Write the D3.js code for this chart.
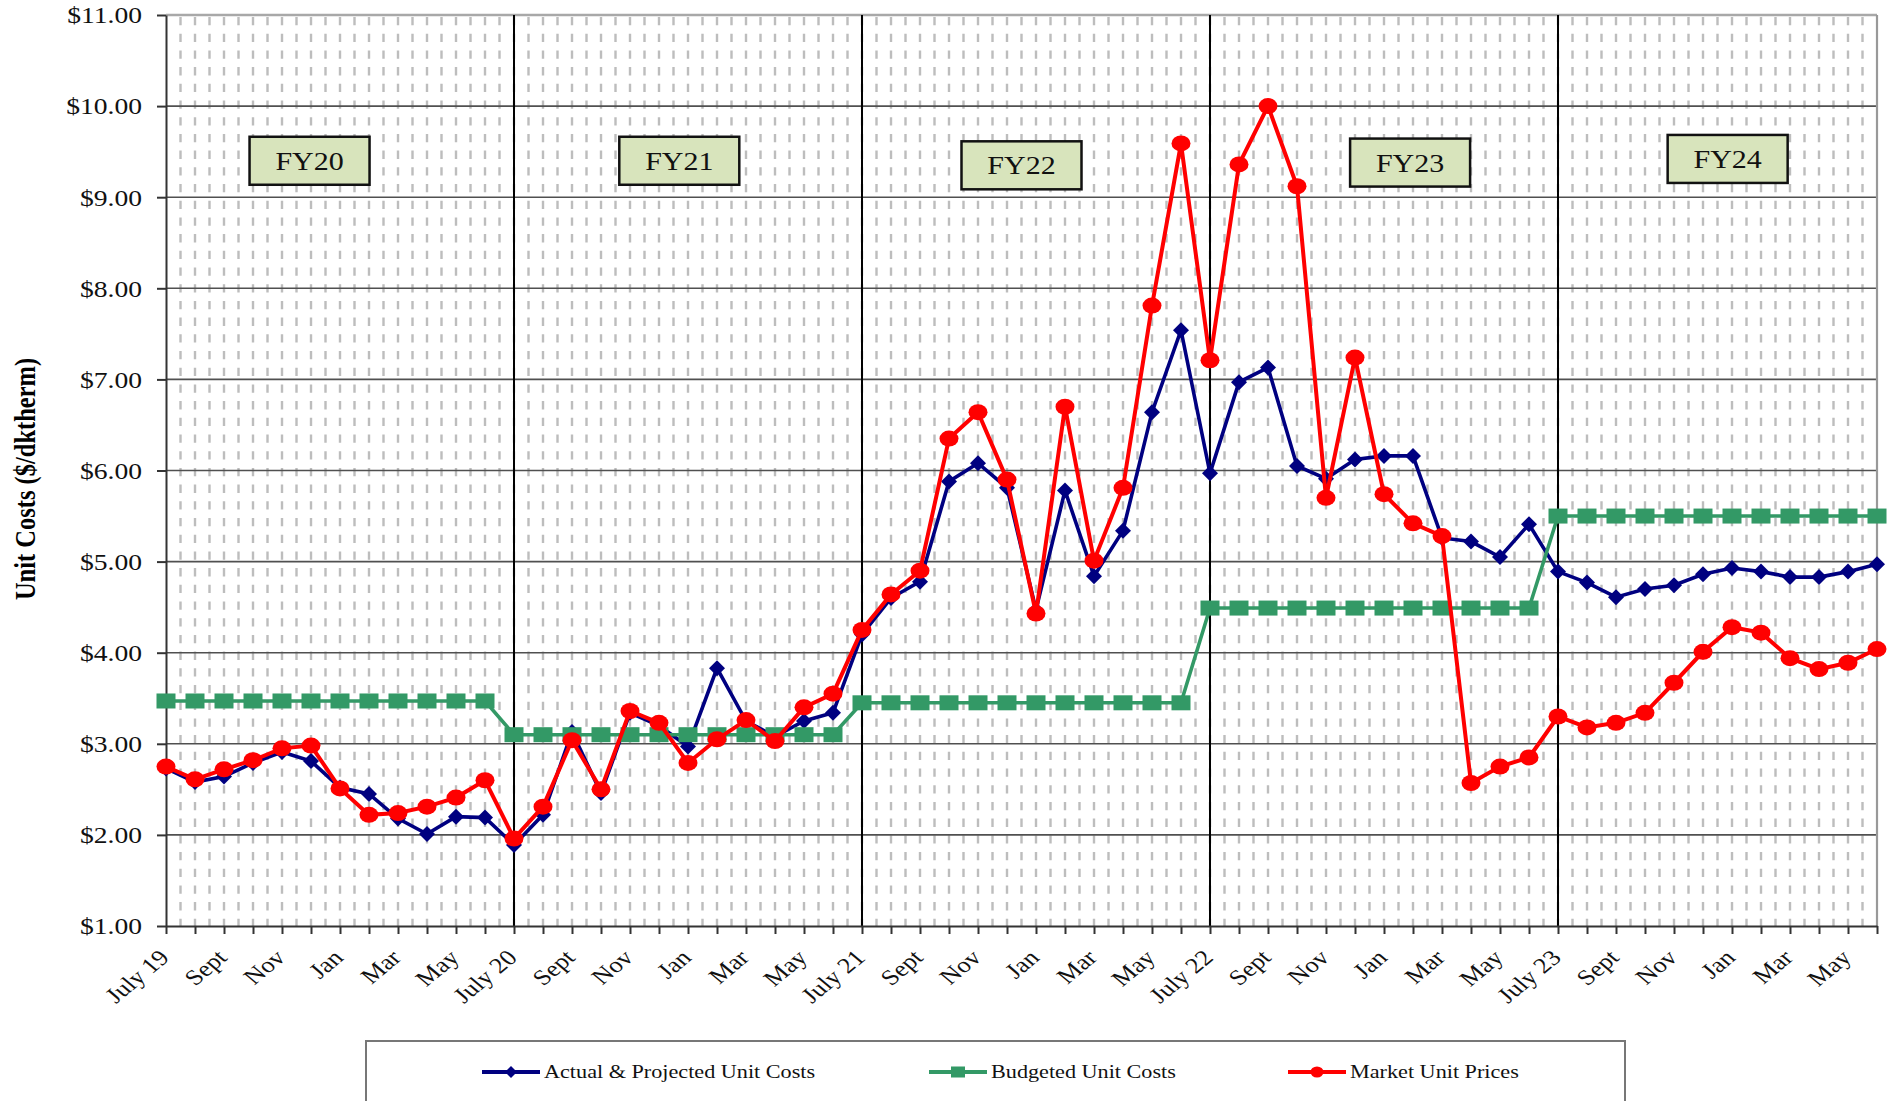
<!DOCTYPE html>
<html>
<head>
<meta charset="utf-8">
<script src="https://cdn.jsdelivr.net/npm/d3@7"></script>
<style>
  body { margin: 0; background: #fff; }
  svg { display: block; font-family: "Liberation Serif", "Times New Roman", serif; }
</style>
</head>
<body>
<div id="chart"></div>
<script>
// Month tick labels, July 19 .. June 24 (only every other month is labelled)
var tickLabels = [
  "July 19", "", "Sept", "", "Nov", "", "Jan", "", "Mar", "", "May", "",
  "July 20", "", "Sept", "", "Nov", "", "Jan", "", "Mar", "", "May", "",
  "July 21", "", "Sept", "", "Nov", "", "Jan", "", "Mar", "", "May", "",
  "July 22", "", "Sept", "", "Nov", "", "Jan", "", "Mar", "", "May", "",
  "July 23", "", "Sept", "", "Nov", "", "Jan", "", "Mar", "", "May", ""
];

// Actual & Projected Unit Costs ($/dktherm)
var actualCosts = [
  2.73, 2.58, 2.64, 2.79, 2.91, 2.81, 2.52, 2.45, 2.18, 2.01, 2.20, 2.19,
  1.89, 2.22, 3.13, 2.46, 3.34, 3.20, 2.97, 3.83, 3.25, 3.08, 3.25, 3.34,
  4.20, 4.60, 4.78, 5.88, 6.08, 5.81, 4.47, 5.78, 4.84, 5.34, 6.64, 7.54,
  5.97, 6.97, 7.13, 6.05, 5.91, 6.12, 6.16, 6.16, 5.26, 5.22, 5.05, 5.41,
  4.89, 4.77, 4.61, 4.70, 4.74, 4.86, 4.93, 4.89, 4.83, 4.83, 4.89, 4.97
];

// Budgeted Unit Costs
var budgetedCosts = [
  3.47, 3.47, 3.47, 3.47, 3.47, 3.47, 3.47, 3.47, 3.47, 3.47, 3.47, 3.47,
  3.10, 3.10, 3.10, 3.10, 3.10, 3.10, 3.10, 3.10, 3.10, 3.10, 3.10, 3.10,
  3.45, 3.45, 3.45, 3.45, 3.45, 3.45, 3.45, 3.45, 3.45, 3.45, 3.45, 3.45,
  4.49, 4.49, 4.49, 4.49, 4.49, 4.49, 4.49, 4.49, 4.49, 4.49, 4.49, 4.49,
  5.50, 5.50, 5.50, 5.50, 5.50, 5.50, 5.50, 5.50, 5.50, 5.50, 5.50, 5.50
];

// Market Unit Prices
var marketPrices = [
  2.75, 2.61, 2.72, 2.82, 2.95, 2.98, 2.51, 2.22, 2.24, 2.31, 2.41, 2.60,
  1.96, 2.31, 3.04, 2.50, 3.36, 3.23, 2.79, 3.05, 3.26, 3.03, 3.40, 3.55,
  4.25, 4.64, 4.90, 6.35, 6.64, 5.90, 4.43, 6.70, 5.01, 5.81, 7.81, 9.59,
  7.21, 9.36, 10.00, 9.12, 5.70, 7.24, 5.74, 5.42, 5.28, 2.57, 2.75, 2.85,
  3.30, 3.18, 3.23, 3.34, 3.67, 4.01, 4.28, 4.22, 3.94, 3.82, 3.89, 4.04
];

// Fiscal year label boxes, placed in chart units (month index, $)
var fyLabels = ["FY20", "FY21", "FY22", "FY23", "FY24"];
var fyMonth = [4.95, 17.7, 29.5, 42.9, 53.85];
var fyValue = [9.40, 9.40, 9.35, 9.38, 9.42];

var yearStarts = [12, 24, 36, 48];

var width = 1888, height = 1101;
var stretch = 1.2; // the picture is a little wider than tall, text follows

var svg = d3.select("#chart").append("svg")
  .attr("width", width)
  .attr("height", height);

var x = d3.scaleLinear().domain([0, 59]).range([166, 1877]);
var y = d3.scaleLinear().domain([1, 11]).range([926, 15]);

// minor dashed grid, every half month
svg.append("g")
  .selectAll("line")
  .data(d3.range(0.5, 59, 0.5))
  .enter().append("line")
    .attr("x1", function(d) { return x(d); })
    .attr("x2", function(d) { return x(d); })
    .attr("y1", y(11) + 2)
    .attr("y2", y(1))
    .style("stroke", "#bdbdbd")
    .style("stroke-width", 2.4)
    .style("stroke-dasharray", "8.3,8.4");

// horizontal gridlines
svg.append("g")
  .selectAll("line")
  .data(d3.range(2, 11))
  .enter().append("line")
    .attr("x1", x(0))
    .attr("x2", x(59))
    .attr("y1", function(d) { return y(d); })
    .attr("y2", function(d) { return y(d); })
    .style("stroke", "#505050")
    .style("stroke-width", 1.6);

// top and right border
svg.append("line")
  .attr("x1", x(0)).attr("x2", x(59))
  .attr("y1", y(11)).attr("y2", y(11))
  .style("stroke", "#a8a8a8").style("stroke-width", 2.5);
svg.append("line")
  .attr("x1", x(59)).attr("x2", x(59))
  .attr("y1", y(11)).attr("y2", y(1))
  .style("stroke", "#999").style("stroke-width", 2.2);

// fiscal year dividers
svg.append("g")
  .selectAll("line")
  .data(yearStarts)
  .enter().append("line")
    .attr("x1", function(d) { return x(d); })
    .attr("x2", function(d) { return x(d); })
    .attr("y1", y(11))
    .attr("y2", y(1))
    .style("stroke", "#000")
    .style("stroke-width", 2);

// y axis
var yAxis = svg.append("g")
  .attr("transform", "translate(" + x(0) + ",0)")
  .call(d3.axisLeft(y)
    .tickValues(d3.range(1, 12))
    .tickFormat(function(d) { return "$" + d.toFixed(2); })
    .tickSize(9)
    .tickSizeOuter(0));
yAxis.select(".domain").style("stroke", "#333").style("stroke-width", 2);
yAxis.selectAll(".tick line").style("stroke", "#333").style("stroke-width", 2);
yAxis.selectAll(".tick text")
  .attr("x", 0)
  .attr("dy", "0.34em")
  .attr("transform", "translate(-24,0) scale(" + stretch + ",1)")
  .style("font-size", "23px")
  .style("fill", "#111")
  .style("font-family", "Liberation Serif, serif");

// x axis
var xAxis = svg.append("g")
  .attr("transform", "translate(0," + y(1) + ")")
  .call(d3.axisBottom(x)
    .tickValues(d3.range(0, 60))
    .tickFormat(function(d) { return tickLabels[d]; })
    .tickSize(8)
    .tickSizeOuter(0));
xAxis.select(".domain").style("stroke", "#333").style("stroke-width", 2);
xAxis.selectAll(".tick line").style("stroke", "#333").style("stroke-width", 2);
xAxis.selectAll(".tick text")
  .attr("x", 0)
  .attr("y", 0)
  .attr("dy", 0)
  .attr("text-anchor", "end")
  .attr("transform", "translate(4,33) scale(" + stretch + ",1) rotate(-45)")
  .style("font-size", "22px")
  .style("fill", "#111")
  .style("font-family", "Liberation Serif, serif");

// y axis title
svg.append("text")
  .attr("transform", "translate(25,479) scale(" + stretch + ",1) rotate(-90)")
  .attr("text-anchor", "middle")
  .attr("dy", "0.35em")
  .style("font-size", "24.5px")
  .style("font-weight", "bold")
  .text("Unit Costs ($/dktherm)");

var line = d3.line()
  .x(function(d, i) { return x(i); })
  .y(function(d) { return y(d); });

// Actual & Projected
svg.append("path")
  .datum(actualCosts)
  .attr("d", line)
  .style("fill", "none")
  .style("stroke", "#000080")
  .style("stroke-width", 3.6);
svg.append("g")
  .selectAll("path")
  .data(actualCosts)
  .enter().append("path")
    .attr("d", "M0,-8L8,0L0,8L-8,0Z")
    .attr("transform", function(d, i) { return "translate(" + x(i) + "," + y(d) + ")"; })
    .style("fill", "#000080");

// Budgeted
svg.append("path")
  .datum(budgetedCosts)
  .attr("d", line)
  .style("fill", "none")
  .style("stroke", "#339966")
  .style("stroke-width", 3.6);
svg.append("g")
  .selectAll("rect")
  .data(budgetedCosts)
  .enter().append("rect")
    .attr("x", function(d, i) { return x(i) - 9.5; })
    .attr("y", function(d) { return y(d) - 7.5; })
    .attr("width", 19)
    .attr("height", 15)
    .style("fill", "#339966");

// Market
svg.append("path")
  .datum(marketPrices)
  .attr("d", line)
  .style("fill", "none")
  .style("stroke", "#ff0000")
  .style("stroke-width", 4);
svg.append("g")
  .selectAll("ellipse")
  .data(marketPrices)
  .enter().append("ellipse")
    .attr("cx", function(d, i) { return x(i); })
    .attr("cy", function(d) { return y(d); })
    .attr("rx", 9.5)
    .attr("ry", 8)
    .style("fill", "#ff0000");

// fiscal year boxes
var fy = svg.append("g")
  .selectAll("g")
  .data(fyLabels)
  .enter().append("g")
    .attr("transform", function(d, i) { return "translate(" + x(fyMonth[i]) + "," + y(fyValue[i]) + ")"; });
fy.append("rect")
  .attr("x", -60).attr("y", -24)
  .attr("width", 120).attr("height", 48)
  .style("fill", "#d8e4bc")
  .style("stroke", "#111")
  .style("stroke-width", 2.5);
fy.append("text")
  .attr("transform", "scale(" + stretch + ",1)")
  .attr("text-anchor", "middle")
  .attr("dy", "0.36em")
  .style("font-size", "25px")
  .style("fill", "#111")
  .text(function(d) { return d; });

// legend
var legendY = 1072;
svg.append("rect")
  .attr("x", 366).attr("y", 1041)
  .attr("width", 1259).attr("height", 120)
  .style("fill", "#fff")
  .style("stroke", "#777")
  .style("stroke-width", 2);

var legendItems = [
  {name: "Actual & Projected Unit Costs", color: "#000080", shape: "diamond", x0: 482},
  {name: "Budgeted Unit Costs", color: "#339966", shape: "square", x0: 929},
  {name: "Market Unit Prices", color: "#ff0000", shape: "circle", x0: 1288}
];
var leg = svg.append("g")
  .selectAll("g")
  .data(legendItems)
  .enter().append("g")
    .attr("transform", function(d) { return "translate(" + d.x0 + "," + legendY + ")"; });
leg.append("line")
  .attr("x1", 0).attr("x2", 58)
  .style("stroke", function(d) { return d.color; })
  .style("stroke-width", 4);
leg.each(function(d) {
  var g = d3.select(this);
  if (d.shape === "diamond") {
    g.append("path").attr("d", "M29,-6L35,0L29,6L23,0Z").style("fill", d.color);
  } else if (d.shape === "square") {
    g.append("rect").attr("x", 22).attr("y", -5.5).attr("width", 14).attr("height", 11).style("fill", d.color);
  } else {
    g.append("ellipse").attr("cx", 29).attr("cy", 0).attr("rx", 6.5).attr("ry", 5.5).style("fill", d.color);
  }
});
leg.append("text")
  .attr("transform", "translate(62,0) scale(" + stretch + ",1)")
  .attr("dy", "0.35em")
  .style("font-size", "18.5px")
  .style("fill", "#111")
  .text(function(d) { return d.name; });
</script>
</body>
</html>
